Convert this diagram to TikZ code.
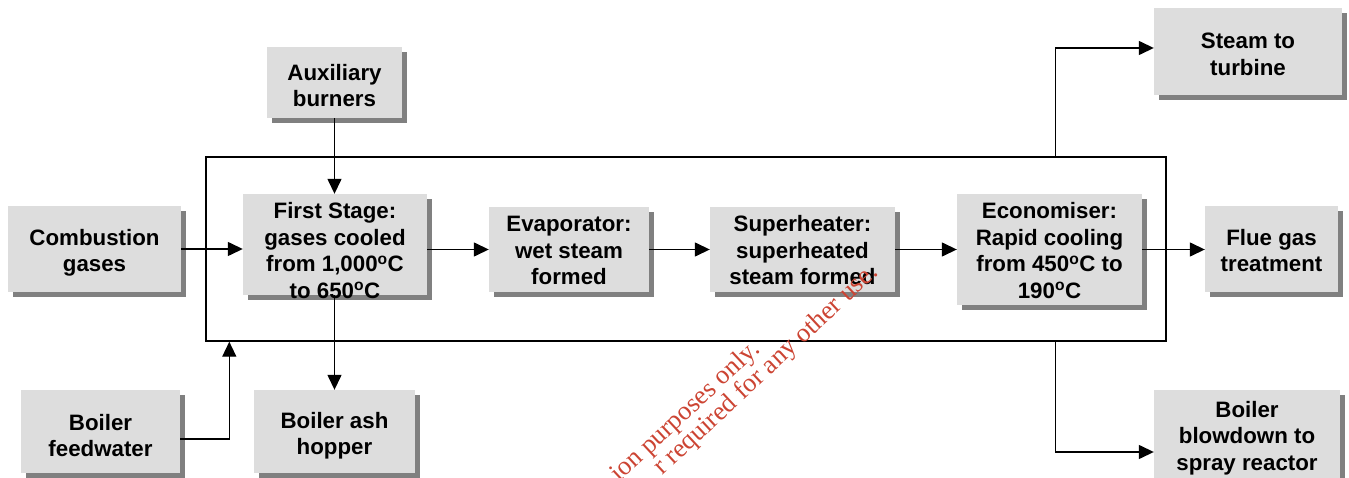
\documentclass[tikz,border=0pt]{standalone}
\usepackage{fontspec}
\setmainfont{Liberation Sans}
\newfontfamily\wmfont{Liberation Serif}
\usetikzlibrary{arrows.meta,shadows}
\definecolor{boxfill}{HTML}{DDDDDD}
\definecolor{boxshade}{HTML}{808080}
\definecolor{wmred}{HTML}{CC4433}
\newcommand{\degc}{\textsuperscript{o}C}

\begin{document}
\begin{tikzpicture}[x=1pt,y=-1pt,
  unit/.style={fill=boxfill, inner sep=0pt,
    drop shadow={shadow xshift=5pt, shadow yshift=-5pt, fill=boxshade, opacity=1}},
  caption/.style={inner sep=0pt, align=center,
    font=\fontsize{22.3}{26.5}\selectfont\bfseries},
  flow/.style={line width=1.4pt, -{Triangle[length=15pt,width=14pt]}},
  wall/.style={draw, line width=1.4pt, inner sep=0pt},
  stamp/.style={text=wmred, font=\wmfont\fontsize{26.5}{30}\selectfont,
    rotate=43, anchor=base east, inner sep=0pt}]

\clip (0,0) rectangle (1349,478);

% boiler casing
\node[wall, minimum width=960pt, minimum height=184pt] (boiler) at (686,249) {};

% process units
\node[unit, minimum width=173pt, minimum height=86pt]  (comb)  at (94.5,249)    {};
\node[unit, minimum width=135pt, minimum height=71pt]  (aux)   at (334.5,82.5)  {};
\node[unit, minimum width=184pt, minimum height=101pt] (first) at (335,244.5)   {};
\node[unit, minimum width=160pt, minimum height=85pt]  (evap)  at (569,249.5)   {};
\node[unit, minimum width=185pt, minimum height=85pt]  (super) at (802.5,249.5) {};
\node[unit, minimum width=185pt, minimum height=111pt] (econ)  at (1049.5,249.5){};
\node[unit, minimum width=133pt, minimum height=86pt]  (flue)  at (1271.5,249)  {};
\node[unit, minimum width=188pt, minimum height=87pt]  (steam) at (1248,51.5)   {};
\node[unit, minimum width=186pt, minimum height=88pt]  (blow)  at (1247,434)    {};
\node[unit, minimum width=159pt, minimum height=83pt]  (feed)  at (100.5,431.5) {};
\node[unit, minimum width=161pt, minimum height=83pt]  (ash)   at (334.5,431.5) {};

% unit labels
\node[caption] (combt)  at ([yshift=-4pt]comb.center)   {Combustion\\gases};
\node[caption] (auxt)   at ([yshift=-3pt]aux.center)    {Auxiliary\\burners};
\node[caption] (firstt) at ([yshift=-6pt]first.center)  {First Stage:\\gases cooled\\from 1,000\degc\\to 650\degc};
\node[caption] (evapt)  at ([yshift=-1pt]evap.center)   {Evaporator:\\wet steam\\formed};
\node[caption] (supert) at ([yshift=-1pt]super.center)  {Superheater:\\superheated\\steam formed};
\node[caption] (econt)  at ([yshift=-1pt]econ.center)   {Economiser:\\Rapid cooling\\from 450\degc{} to\\190\degc};
\node[caption] (fluet)  at ([yshift=-1.5pt]flue.center) {Flue gas\\treatment};
\node[caption] (steamt) at ([yshift=-3pt]steam.center)  {Steam to\\turbine};
\node[caption] (blowt)  at ([yshift=-4pt]blow.center)   {Boiler\\blowdown to\\spray reactor};
\node[caption] (feedt)  at ([yshift=-4pt]feed.center)   {Boiler\\feedwater};
\node[caption] (asht)   at ([yshift=-4pt]ash.center)    {Boiler ash\\hopper};

% gas path
\draw[flow] (comb.east) -- (comb.east -| first.west);
\draw[flow] (aux.south) -- (aux.south |- first.north);
\draw[flow] (first.east |- evap.west) -- (evap.west);
\draw[flow] (evap.east) -- (super.west);
\draw[flow] (super.east) -- (econ.west);
\draw[flow] (econ.east) -- (econ.east -| flue.west);
\draw[flow] (first.south -| ash.north) -- (ash.north);

% water and steam
\draw[flow] ([yshift=-7.5pt]feed.east) -| ([xshift=24pt]boiler.south west);
\draw[flow] ([xshift=-111pt]boiler.north east) |- ([yshift=3.5pt]steam.west);
\draw[flow] ([xshift=-111pt]boiler.south east) |- ([yshift=-18pt]blow.west);

% stamp across the sheet
\node[stamp] (stampa) at (761,351) {ion purposes only.};
\node[stamp] (stampb) at (879,274) {r required for any other use.};
\end{tikzpicture}
\end{document}
